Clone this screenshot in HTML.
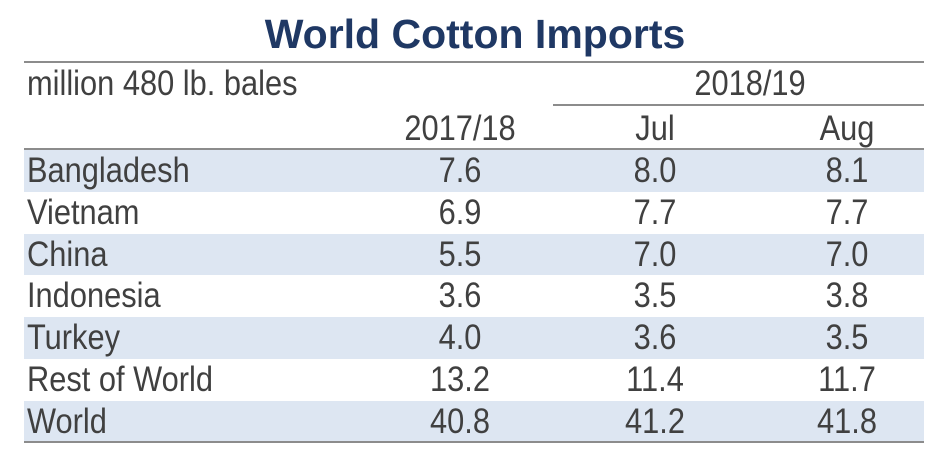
<!DOCTYPE html>
<html><head><meta charset="utf-8"><style>
body{margin:0;width:950px;height:469px;background:#fff;position:relative;overflow:hidden;font-family:"Liberation Sans",Arial,sans-serif;color:#404040}
.a{position:absolute;white-space:nowrap}
.t{font-size:35px;line-height:42px;transform:scaleX(0.88);transform-origin:0 50%}
.c{text-align:center;width:200px;transform-origin:50% 50%}
.row{position:absolute;left:24px;width:900px;height:42px}
.line{position:absolute;background:#8c8c8c;height:2px}
</style></head><body>
<div class="a" style="left:0;width:950px;text-align:center;top:11px;font-size:41px;font-weight:bold;color:#1f3864">World Cotton Imports</div>
<div class="line" style="left:24px;width:900px;top:61px"></div>
<div class="a t" style="left:27px;top:63px">million 480 lb. bales</div>
<div class="a t c" style="left:650px;top:63px">2018/19</div>
<div class="line" style="left:553px;width:371px;top:104px"></div>
<div id="hdr"></div>
<div class="line" style="left:24px;width:900px;top:148px"></div>
<div id="body"></div>
<div class="line" style="left:24px;width:900px;top:441px"></div>
<script>
const columns=["2017/18","Jul","Aug"];
const countries=["Bangladesh","Vietnam","China","Indonesia","Turkey","Rest of World","World"];
const v2017=[7.6,6.9,5.5,3.6,4.0,13.2,40.8];
const vJul=[8.0,7.7,7.0,3.5,3.6,11.4,41.2];
const vAug=[8.1,7.7,7.0,3.8,3.5,11.7,41.8];
const centers=[460,655,847];
const series=[v2017,vJul,vAug];
const hdr=document.getElementById('hdr');
columns.forEach((c,i)=>{
  const d=document.createElement('div');
  d.className='a t c';
  d.style.left=(centers[i]-100)+'px';d.style.top='108px';
  d.textContent=c;
  
  
  hdr.appendChild(d);
});
const body=document.getElementById('body');
const rowTop=150,rowH=41.8;
countries.forEach((name,r)=>{
  const row=document.createElement('div');
  row.className='row';
  row.style.top=(rowTop+r*rowH)+'px';
  row.style.background=(r%2===0)?'#dde6f2':'#fff';
  
  
  body.appendChild(row);
  const l=document.createElement('div');
  l.className='a t';
  l.style.left='27px';l.style.top=(rowTop+r*rowH)+'px';
  l.textContent=name;
  
  
  body.appendChild(l);
  series.forEach((s,i)=>{
    const c=document.createElement('div');
    c.className='a t c';
    c.style.left=(centers[i]-100)+'px';c.style.top=(rowTop+r*rowH)+'px';
    c.textContent=s[r].toFixed(1);
    
    
    body.appendChild(c);
  });
});
</script>
</body></html>
